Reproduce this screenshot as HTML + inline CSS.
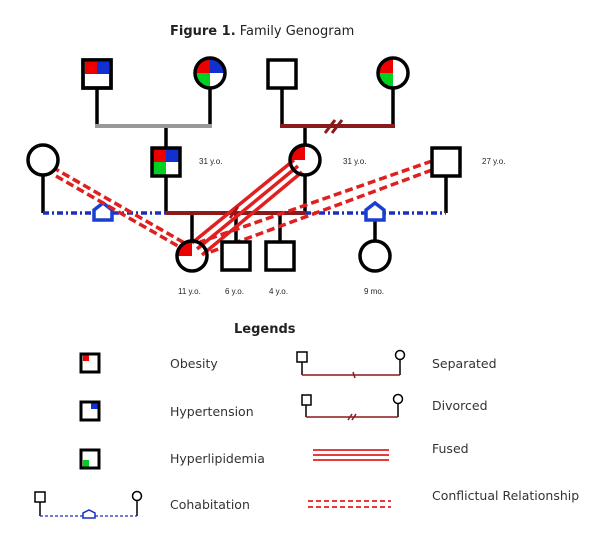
<!DOCTYPE html>
<html><head><meta charset="utf-8"><style>
html,body{margin:0;padding:0;background:#fff;}
svg{display:block;font-family:"DejaVu Sans","Liberation Sans",sans-serif;}
</style></head><body>
<svg width="600" height="535" viewBox="0 0 600 535" xmlns="http://www.w3.org/2000/svg">
<text x="170" y="35" font-size="13" fill="#222"><tspan font-weight="bold">Figure 1.</tspan> Family Genogram</text>

<!-- top connectors -->
<g stroke="#000" stroke-width="3.5" fill="none">
<line x1="97" y1="88" x2="97" y2="126"/>
<line x1="210" y1="88" x2="210" y2="126"/>
<line x1="166" y1="126" x2="166" y2="148"/>
<line x1="282" y1="88" x2="282" y2="126"/>
<line x1="393" y1="88" x2="393" y2="126"/>
<line x1="305" y1="126" x2="305" y2="146"/>
<line x1="43" y1="175" x2="43" y2="213"/>
<line x1="166" y1="177" x2="166" y2="213"/>
<line x1="305" y1="175" x2="305" y2="213"/>
<line x1="446" y1="176" x2="446" y2="213"/>
<line x1="192" y1="213" x2="192" y2="241"/>
<line x1="236" y1="213" x2="236" y2="242"/>
<line x1="280" y1="213" x2="280" y2="242"/>
<line x1="375" y1="218" x2="375" y2="241"/>
</g>
<line x1="95" y1="126" x2="212" y2="126" stroke="#999" stroke-width="4"/>
<line x1="280" y1="126" x2="395" y2="126" stroke="#8b1a1a" stroke-width="4"/>
<g stroke="#8b1a1a" stroke-width="3"><line x1="325" y1="133" x2="335" y2="120"/><line x1="332" y1="133" x2="342" y2="120"/></g>
<line x1="166" y1="213" x2="305" y2="213" stroke="#8b1a1a" stroke-width="4"/>
<line x1="43" y1="213" x2="166" y2="213" stroke="#1a2fc0" stroke-width="3.5" stroke-dasharray="6,3,2,3"/>
<line x1="305" y1="213" x2="446" y2="213" stroke="#1a2fc0" stroke-width="3.5" stroke-dasharray="6,3,2,3"/>
<path d="M94 220 L94 210 L103 203 L112 210 L112 220 Z" fill="#fff" stroke="#1a3fd0" stroke-width="3.5"/>
<path d="M366 220 L366 210 L375 203 L384 210 L384 220 Z" fill="#fff" stroke="#1a3fd0" stroke-width="3.5"/>

<!-- conflict & fused -->
<g stroke="#e02020" stroke-width="3.5" stroke-dasharray="8,4" fill="none">
<line x1="52" y1="167" x2="188" y2="245"/>
<line x1="56" y1="176" x2="190" y2="253"/>
<line x1="432" y1="161" x2="200" y2="242"/>
<line x1="432" y1="170" x2="205" y2="254"/>
</g>
<g stroke="#e02020" stroke-width="3.5">
<line x1="294" y1="160" x2="192" y2="243"/>
<line x1="298" y1="166" x2="197" y2="249"/>
<line x1="302" y1="172" x2="202" y2="255"/>
</g>
<g stroke="#a01010" stroke-width="2.5"><line x1="230" y1="218" x2="238" y2="207"/></g>

<!-- people -->
<g stroke="#000" stroke-width="3.5">
<rect x="83" y="60" width="28" height="28" fill="#fff"/>
</g>
<rect x="85" y="62" width="12" height="12" fill="#e00"/>
<rect x="97" y="62" width="12" height="12" fill="#1030d0"/>
<rect x="83" y="60" width="28" height="28" fill="none" stroke="#000" stroke-width="3.5"/>

<path d="M210 73 L210 58 A15 15 0 0 0 195 73 Z" fill="#e00"/>
<path d="M210 73 L225 73 A15 15 0 0 0 210 58 Z" fill="#1030d0"/>
<path d="M210 73 L195 73 A15 15 0 0 0 210 88 Z" fill="#00d020"/>
<circle cx="210" cy="73" r="15" fill="none" stroke="#000" stroke-width="3.5"/>

<rect x="268" y="60" width="28" height="28" fill="#fff" stroke="#000" stroke-width="3.5"/>

<path d="M393 73 L393 58 A15 15 0 0 0 378 73 Z" fill="#e00"/>
<path d="M393 73 L378 73 A15 15 0 0 0 393 88 Z" fill="#00d020"/>
<circle cx="393" cy="73" r="15" fill="none" stroke="#000" stroke-width="3.5"/>

<circle cx="43" cy="160" r="15" fill="#fff" stroke="#000" stroke-width="3.5"/>

<rect x="152" y="148" width="14" height="14" fill="#e00"/>
<rect x="166" y="148" width="14" height="14" fill="#1030d0"/>
<rect x="152" y="162" width="14" height="14" fill="#00d020"/>
<rect x="152" y="148" width="28" height="28" fill="none" stroke="#000" stroke-width="3.5"/>

<path d="M305 160 L305 145 A15 15 0 0 0 290 160 Z" fill="#e00"/>
<circle cx="305" cy="160" r="15" fill="none" stroke="#000" stroke-width="3.5"/>

<rect x="432" y="148" width="28" height="28" fill="#fff" stroke="#000" stroke-width="3.5"/>

<path d="M192 256 L192 241 A15 15 0 0 0 177 256 Z" fill="#e00"/>
<circle cx="192" cy="256" r="15" fill="none" stroke="#000" stroke-width="3.5"/>
<rect x="222" y="242" width="28" height="28" fill="#fff" stroke="#000" stroke-width="3.5"/>
<rect x="266" y="242" width="28" height="28" fill="#fff" stroke="#000" stroke-width="3.5"/>
<circle cx="375" cy="256" r="15" fill="#fff" stroke="#000" stroke-width="3.5"/>

<g font-size="8" fill="#222" font-family="Liberation Sans, sans-serif">
<text x="199" y="164">31 y.o.</text>
<text x="343" y="164">31 y.o.</text>
<text x="482" y="164">27 y.o.</text>
<text x="178" y="294">11 y.o.</text>
<text x="225" y="294">6 y.o.</text>
<text x="269" y="294">4 y.o.</text>
<text x="364" y="294">9 mo.</text>
</g>

<!-- legend -->
<text x="234" y="333" font-size="13" font-weight="bold" fill="#222">Legends</text>
<g font-size="12.5" fill="#333">
<text x="170" y="368">Obesity</text>
<text x="170" y="416">Hypertension</text>
<text x="170" y="463">Hyperlipidemia</text>
<text x="170" y="509">Cohabitation</text>
<text x="432" y="368">Separated</text>
<text x="432" y="410">Divorced</text>
<text x="432" y="453">Fused</text>
<text x="432" y="500">Conflictual Relationship</text>
</g>
<rect x="83" y="355" width="6" height="6" fill="#e00"/>
<rect x="81" y="354" width="18" height="18" fill="none" stroke="#000" stroke-width="3"/>
<rect x="91" y="403" width="7" height="6" fill="#1030d0"/>
<rect x="81" y="402" width="18" height="18" fill="none" stroke="#000" stroke-width="3"/>
<rect x="83" y="460" width="6" height="8" fill="#00d020"/>
<rect x="81" y="450" width="18" height="18" fill="none" stroke="#000" stroke-width="3"/>

<g stroke="#000" stroke-width="1.5" fill="#fff">
<rect x="297" y="352" width="10" height="10"/><line x1="302" y1="362" x2="302" y2="375"/>
<circle cx="400" cy="355" r="4.5"/><line x1="400" y1="360" x2="400" y2="375"/>
<rect x="302" y="395" width="9" height="10"/><line x1="306" y1="405" x2="306" y2="417"/>
<circle cx="398" cy="399" r="4.5"/><line x1="398" y1="404" x2="398" y2="417"/>
<rect x="35" y="492" width="10" height="10"/><line x1="40" y1="502" x2="40" y2="516"/>
<circle cx="137" cy="496" r="4.5"/><line x1="137" y1="501" x2="137" y2="516"/>
</g>
<line x1="302" y1="375" x2="400" y2="375" stroke="#8b1a1a" stroke-width="1.5"/>
<line x1="353" y1="372" x2="355" y2="378" stroke="#8b1a1a" stroke-width="1.5"/>
<line x1="306" y1="417" x2="398" y2="417" stroke="#8b1a1a" stroke-width="1.5"/>
<g stroke="#8b1a1a" stroke-width="1.5"><line x1="348" y1="420" x2="352" y2="414"/><line x1="352" y1="420" x2="356" y2="414"/></g>
<g stroke="#e02020" stroke-width="1.8">
<line x1="313" y1="450" x2="389" y2="450"/><line x1="313" y1="455" x2="389" y2="455"/><line x1="313" y1="460" x2="389" y2="460"/>
</g>
<g stroke="#e02020" stroke-width="1.8" stroke-dasharray="5,3">
<line x1="308" y1="501" x2="391" y2="501"/><line x1="308" y1="507" x2="391" y2="507"/>
</g>
<line x1="40" y1="516" x2="137" y2="516" stroke="#1a2fc0" stroke-width="1.2" stroke-dasharray="3,2"/>
<path d="M83 518 L83 513 L89 510 L95 513 L95 518 Z" fill="#fff" stroke="#1a2fc0" stroke-width="1.5"/>
</svg>
</body></html>
